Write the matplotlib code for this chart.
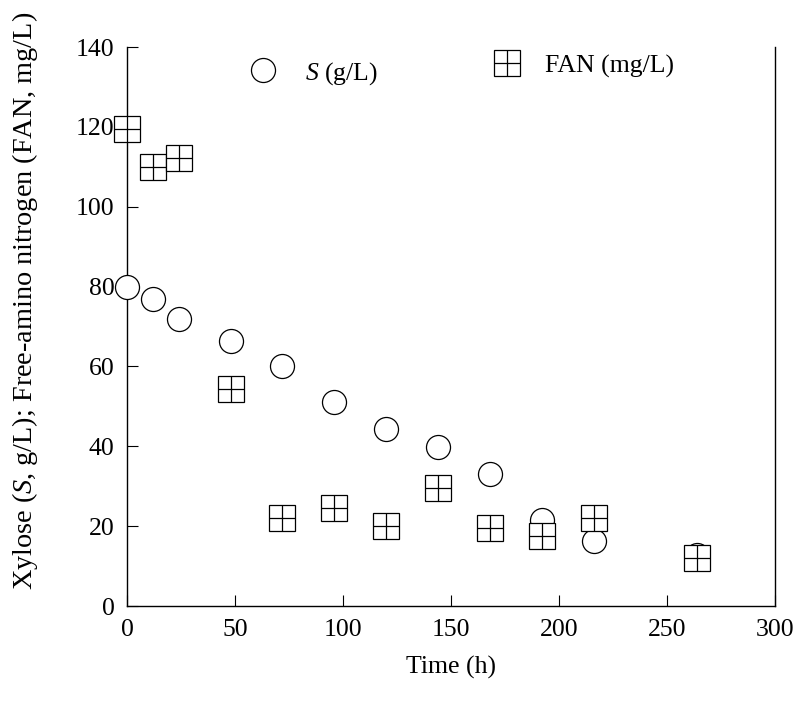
import matplotlib
matplotlib.use("Agg")
import matplotlib.pyplot as plt

plt.rcParams['font.family'] = ['Liberation Serif', 'DejaVu Serif']
plt.rcParams['mathtext.fontset'] = 'custom'
plt.rcParams['mathtext.rm'] = 'Liberation Serif'
plt.rcParams['mathtext.it'] = 'Liberation Serif:italic'

# sampling times (h)
time_s = [0, 12, 24, 48, 72, 96, 120, 144, 168, 192, 216, 264]
xylose = [80, 77, 72, 66.3, 60.1, 51.1, 44.3, 39.8, 33.1, 21.5, 16.3, 12.8]  # S, g/L

time_fan = [0, 12, 24, 48, 72, 96, 120, 144, 168, 192, 216, 264]
fan = [119.5, 110, 112.2, 54.3, 22.1, 24.5, 20.1, 29.5, 19.6, 17.6, 22.1, 12.0]  # mg/L

xticks = [0, 50, 100, 150, 200, 250, 300]
yticks = [0, 20, 40, 60, 80, 100, 120, 140]

FS = 18.5
MS_C = 17.3
MS_S = 18.5
LW = 0.9

fig = plt.figure(figsize=(7.96, 7.04), dpi=100)
ax = fig.add_axes([0.1595, 0.1392, 0.8141, 0.794])

circ, = ax.plot(time_s, xylose, linestyle='none', marker='o', ms=MS_C,
                mfc='white', mec='black', mew=LW, zorder=3, clip_on=False)
sq, = ax.plot(time_fan, fan, linestyle='none', marker='s', ms=MS_S,
              mfc='white', mec='black', mew=LW, zorder=4, clip_on=False)
plus, = ax.plot(time_fan, fan, linestyle='none', marker='+', ms=MS_S,
                mec='black', mew=LW, zorder=5, clip_on=False)

ax.set_xlim(0, 300)
ax.set_ylim(0, 140)
ax.set_xticks(xticks)
ax.set_yticks(yticks)
ax.tick_params(direction='in', length=8, width=0.8, labelsize=FS, pad=9,
               right=False, top=False)
ax.spines['top'].set_visible(False)
for s in ['left', 'bottom', 'right']:
    ax.spines[s].set_linewidth(1.0)

ax.set_xlabel('Time (h)', fontsize=FS, labelpad=11)
ax.set_ylabel(r'Xylose ($\mathit{S}$, g/L); Free-amino nitrogen (FAN, mg/L)',
              fontsize=20.3, labelpad=26)
ax.yaxis.label.set_y(0.545)  # label sits a bit above the axis centre

# legend entries (two separate labels, as in the figure)
leg1 = ax.legend([circ], [r'$\mathit{S}$ (g/L)'], loc='center left',
                 bbox_to_anchor=(0.186, 0.953), frameon=False, fontsize=FS,
                 handlelength=1.2, handletextpad=1.03, borderpad=0,
                 borderaxespad=0)
ax.add_artist(leg1)
ax.legend([(sq, plus)], ['FAN (mg/L)'], loc='center left',
          bbox_to_anchor=(0.563, 0.966), frameon=False, fontsize=FS,
          handlelength=1.2, handletextpad=0.88, borderpad=0, borderaxespad=0)

fig.savefig('out.png', dpi=100)
